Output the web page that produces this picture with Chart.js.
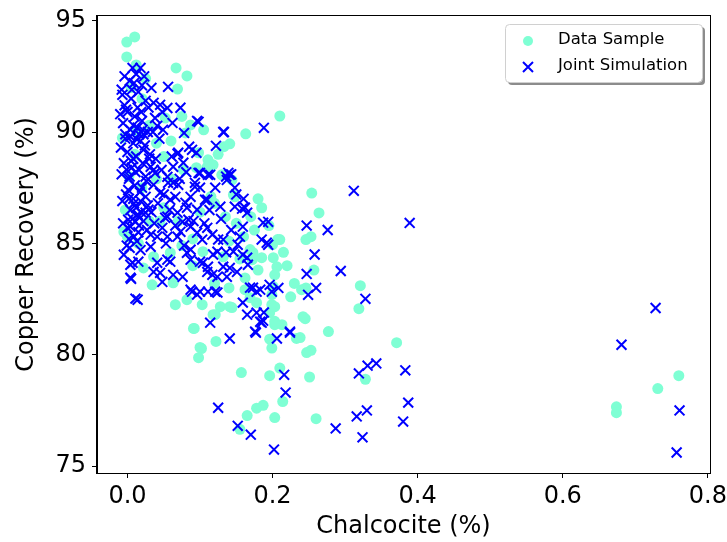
<!DOCTYPE html>
<html>
<head>
<meta charset="utf-8">
<script src="https://cdn.jsdelivr.net/npm/chart.js@4"></script>
<style>
  html, body { margin: 0; padding: 0; background: #fff; }
  #wrap { width: 727px; height: 542px; position: relative; }
</style>
</head>
<body>
<div id="wrap"><canvas id="chart"></canvas></div>
<script>
// Data Sample (circles)
const sampleX = [
  -0.001, 0.010, -0.001, 0.012, 0.067, 0.082, 0.069, 0.210, 0.163, 0.141, 0.133, 0.087, 0.080, -0.007, 0.052,
  0.111, 0.118, 0.098, 0.148, 0.130, 0.144, 0.146, 0.254, 0.264, 0.253, 0.246, 0.257, 0.246, 0.321, 0.319,
  0.245, 0.277, 0.371, 0.247, 0.253, 0.251, 0.328, 0.260, 0.760, 0.731, 0.674, 0.674, 0.092, 0.122, 0.102,
  0.098, 0.157, 0.196, 0.210, 0.199, 0.196, 0.203, 0.233, 0.214, 0.203, 0.187, 0.178, 0.165, 0.155, 0.207,
  0.200, 0.201, 0.206, 0.203, 0.201, 0.199, 0.199, 0.196, 0.203, 0.118, 0.066, 0.034, 0.022, -0.005, 0.128,
  0.141, 0.169, 0.178, 0.162, 0.172, 0.169, 0.132, 0.104, 0.059, 0.036, 0.077, 0.110, 0.210, 0.185, 0.173,
  0.162, 0.144, 0.203, 0.213, 0.121, 0.103, 0.240, 0.242, 0.082, 0.091, 0.100, 0.063, -0.003, 0.002, 0.010,
  0.020, 0.015, 0.030, 0.040, 0.050, 0.060, 0.070, 0.090, 0.100, 0.120, 0.135, 0.150, 0.160, 0.175, 0.185,
  0.090, 0.120, 0.140, 0.155, 0.180, 0.050, 0.040, 0.030, 0.020, 0.060, 0.075, 0.105, 0.115, 0.125, 0.025,
  0.005, 0.013, 0.000, 0.170, 0.140, 0.180, 0.195, 0.220, 0.225, 0.230, 0.238, 0.215, 0.045, 0.075, 0.095
];
const sampleY = [
  94.04, 94.27, 93.37, 93.01, 92.88, 92.52, 91.93, 90.72, 89.92, 89.47, 89.34, 90.32, 89.96, 89.74, 90.63,
  88.75, 88.53, 89.07, 87.09, 88.08, 87.85, 87.18, 87.26, 86.37, 85.30, 85.17, 83.80, 83.00, 83.10, 82.07,
  81.62, 81.04, 80.54, 80.10, 80.20, 79.00, 78.90, 77.13, 79.06, 78.48, 77.66, 77.40, 81.18, 80.60, 80.28,
  79.87, 79.20, 79.06, 79.40, 80.30, 80.70, 81.35, 80.73, 77.90, 77.18, 77.73, 77.60, 77.27, 76.65, 85.17,
  84.94, 84.36, 83.95, 83.59, 83.06, 82.70, 82.25, 81.89, 81.50, 81.80, 82.25, 83.14, 83.90, 85.52, 82.16,
  82.16, 82.56, 82.34, 83.45, 84.27, 84.72, 84.40, 84.63, 84.58, 84.40, 88.30, 88.44, 85.17, 84.36, 84.58,
  82.92, 82.12, 82.16, 81.35, 81.80, 82.25, 82.92, 81.71, 82.47, 81.18, 80.33, 83.23, 86.50, 88.00, 89.00,
  87.50, 85.00, 86.00, 89.50, 88.90, 87.90, 86.00, 85.20, 86.40, 86.80, 86.20, 85.90, 85.30, 85.60, 86.60,
  84.00, 83.20, 83.00, 84.30, 83.80, 86.60, 87.90, 90.30, 91.50, 89.60, 90.70, 90.10, 87.10, 89.00, 92.40,
  92.00, 90.00, 85.30, 86.20, 85.10, 87.00, 85.80, 84.00, 82.60, 83.20, 80.77, 84.60, 86.00, 84.90, 88.40
];

// Joint Simulation (crosses)
const simX = [
  -0.008, -0.007, 0.007, 0.018, 0.012, 0.003, 0.020, -0.004, 0.005, 0.015, 0.025, 0.000, 0.010, 0.020, -0.006,
  0.004, 0.014, 0.028, -0.003, 0.008, 0.018, 0.022, 0.000, 0.012, 0.030, -0.005, 0.006, 0.016, 0.025, 0.002,
  0.010, 0.020, -0.002, 0.008, 0.018, 0.028, 0.004, 0.014, 0.001, 0.011, 0.025, 0.000, 0.004, 0.015, 0.032,
  0.041, -0.005, 0.004, 0.007, 0.015, 0.005, 0.011, 0.014, 0.004, 0.032, 0.029, 0.015, 0.025, 0.032, 0.038,
  0.036, 0.045, 0.036, 0.038, 0.048, 0.055, 0.062, 0.049, 0.041, 0.033, 0.056, 0.073, 0.096, 0.132, 0.188,
  0.122, 0.078, 0.085, 0.095, 0.069, 0.077, 0.089, 0.070, 0.098, 0.093, 0.056, 0.066, 0.080, 0.084, 0.141,
  0.137, 0.100, 0.114, 0.070, 0.093, 0.121, 0.107, 0.128, 0.158, 0.165, 0.187, 0.194, 0.159, 0.185, 0.194,
  0.152, 0.146, 0.159, 0.165, 0.166, 0.141, 0.151, 0.132, 0.124, 0.117, 0.111, 0.087, 0.096, 0.111, 0.124,
  0.159, 0.173, 0.178, 0.196, 0.199, 0.165, 0.178, 0.187, 0.041, 0.045, 0.036, 0.063, 0.076, 0.055, 0.082,
  0.087, 0.104, 0.087, 0.069, 0.055, 0.048, 0.052, 0.076, 0.087, 0.096, 0.110, 0.117, 0.125, 0.132, 0.103,
  0.073, 0.059, 0.045, 0.036, 0.063, 0.055, 0.063, 0.087, 0.096, 0.082, 0.069, 0.055, 0.048, 0.059, 0.089,
  0.137, 0.169, 0.183, 0.183, 0.114, 0.176, 0.224, 0.100, 0.121, 0.110, 0.100, 0.124, 0.192, 0.162, 0.148,
  0.111, 0.139, 0.110, 0.098, 0.133, 0.141, 0.177, 0.185, 0.206, 0.224, 0.216, 0.218, 0.125, 0.152, 0.170,
  0.202, 0.312, 0.389, 0.276, 0.247, 0.258, 0.294, 0.247, 0.260, 0.249, 0.328, 0.319, 0.331, 0.343, 0.383,
  0.387, 0.380, 0.316, 0.330, 0.287, 0.324, 0.728, 0.681, 0.761, 0.757, 0.150, 0.188, 0.208, 0.022, 0.009,
  -0.010, -0.009, -0.008, -0.007, -0.006, -0.004, -0.002, -0.001, 0.001, 0.002, 0.003, 0.004, 0.005, 0.006, 0.007,
  0.008, 0.009, 0.011, 0.012, 0.013, 0.014, 0.016, 0.017, 0.018, 0.019, 0.021, 0.022, 0.023, 0.024, 0.026,
  0.027, 0.029, 0.031, 0.033, 0.035, 0.037, 0.039, 0.042, 0.044, 0.047, 0.050, 0.053, 0.058, 0.061, 0.066,
  0.072, 0.078, 0.081, 0.091, 0.100, 0.106, 0.113, 0.118, 0.129, 0.136, 0.143, 0.148, 0.155, 0.160, 0.143,
  0.136, -0.003, 0.003, 0.009, 0.016, 0.021, 0.002, 0.012, 0.019, -0.001, 0.008
];
const simY = [
  91.90, 91.67, 92.88, 92.88, 92.60, 92.30, 92.10, 91.20, 91.50, 91.80, 91.40, 90.90, 90.70, 90.50, 90.40,
  90.10, 90.20, 90.00, 89.70, 89.50, 89.60, 89.20, 89.10, 88.90, 88.80, 88.60, 88.40, 88.30, 88.00, 87.90,
  87.60, 87.50, 87.20, 87.00, 86.90, 86.70, 86.50, 86.30, 86.06, 85.97, 86.38, 85.70, 85.75, 85.50, 85.39,
  85.30, 84.49, 84.04, 84.13, 84.18, 83.41, 82.52, 82.47, 83.46, 84.85, 86.51, 86.20, 87.09, 88.44, 88.16,
  88.30, 91.22, 91.31, 90.63, 90.90, 91.08, 90.41, 90.10, 90.28, 91.98, 92.03, 91.09, 90.50, 90.00, 90.19,
  89.38, 89.96, 89.34, 89.07, 89.02, 88.62, 89.20, 89.07, 88.16, 87.54, 87.72, 87.09, 86.82, 86.06, 88.08,
  87.85, 88.16, 88.08, 87.63, 87.72, 87.50, 86.96, 86.65, 86.56, 86.38, 85.93, 85.97, 85.75, 85.17, 84.94,
  84.94, 84.63, 84.49, 84.36, 84.04, 83.90, 83.72, 83.95, 83.50, 83.59, 83.95, 82.92, 82.70, 82.83, 82.79,
  82.34, 83.01, 82.83, 83.14, 82.83, 81.80, 81.89, 81.53, 84.13, 83.68, 83.72, 83.59, 83.50, 84.27, 84.58,
  84.27, 84.13, 84.72, 85.30, 85.30, 85.70, 86.15, 85.97, 85.75, 85.48, 85.70, 85.39, 85.17, 85.17, 85.17,
  85.52, 86.96, 87.27, 87.63, 87.72, 87.99, 88.44, 87.09, 86.51, 86.60, 86.38, 86.20, 83.27, 84.18, 82.83,
  83.50, 83.01, 82.92, 81.48, 81.44, 81.04, 81.04, 82.83, 82.83, 83.72, 84.18, 84.63, 85.03, 86.60, 86.65,
  88.08, 88.17, 86.96, 90.46, 90.00, 80.73, 80.99, 81.44, 80.73, 80.99, 79.10, 78.30, 77.62, 76.81, 76.41,
  75.74, 87.36, 85.92, 85.60, 85.80, 84.50, 83.76, 83.63, 83.00, 82.69, 82.51, 79.16, 79.51, 79.61, 79.30,
  77.85, 77.00, 77.23, 77.50, 76.69, 76.29, 82.10, 80.45, 77.50, 75.61, 87.20, 81.90, 83.00, 89.90, 85.30,
  90.80, 89.30, 88.10, 86.90, 85.90, 92.50, 91.00, 88.30, 87.40, 85.20, 84.80, 89.80, 88.70, 91.90, 86.10,
  90.30, 92.20, 88.20, 86.60, 85.10, 91.10, 89.90, 87.30, 84.70, 90.90, 88.60, 86.00, 92.50, 89.40, 87.80,
  85.60, 91.10, 89.00, 86.40, 90.00, 85.90, 88.80, 86.80, 89.70, 88.30, 87.20, 85.00, 86.50, 88.90, 85.80,
  87.90, 84.90, 88.20, 86.00, 87.50, 85.90, 86.50, 84.50, 86.10, 84.60, 85.60, 87.50, 85.30, 87.00, 88.10,
  88.00, 89.90, 88.00, 86.80, 85.80, 90.10, 87.00, 89.70, 86.40, 84.90, 88.80
];

const xTicks = [0.0, 0.2, 0.4, 0.6, 0.8];
const yTicks = [75, 80, 85, 90, 95];
const seriesNames = ["Data Sample", "Joint Simulation"];

const SAMPLE_COLOR = "#7fffd4";
const SIM_COLOR = "#0000ff";
const FONT = "'DejaVu Sans', sans-serif";

const toPoints = (xs, ys) => xs.map((x, i) => ({ x, y: ys[i] }));

// frame + legend in the matplotlib style
const framePlugin = {
  id: "frame",
  afterDraw(chart) {
    const { ctx, chartArea: a } = chart;
    ctx.save();
    ctx.strokeStyle = "#000";
    ctx.lineWidth = 1;
    ctx.strokeRect(Math.round(a.left) - 0.5, Math.round(a.top) - 0.5,
      Math.round(a.right - a.left) + 1, Math.round(a.bottom - a.top) + 1);

    // legend box
    const bx = 505, by = 24, bw = 197, bh = 58, r = 4;
    const box = (x, y) => {
      ctx.beginPath();
      ctx.roundRect(x, y, bw, bh, r);
    };
    ctx.fillStyle = "rgba(0,0,0,0.45)";
    box(bx + 3, by + 3); ctx.fill();
    ctx.fillStyle = "#fff";
    box(bx, by); ctx.fill();
    ctx.strokeStyle = "#d0d0d0";
    ctx.lineWidth = 1;
    box(bx + 0.5, by + 0.5); ctx.stroke();

    // markers
    ctx.fillStyle = SAMPLE_COLOR;
    ctx.beginPath();
    ctx.arc(528, 41, 5, 0, Math.PI * 2);
    ctx.fill();
    ctx.strokeStyle = SIM_COLOR;
    ctx.lineWidth = 2;
    ctx.beginPath();
    ctx.moveTo(523, 62); ctx.lineTo(533, 72);
    ctx.moveTo(533, 62); ctx.lineTo(523, 72);
    ctx.stroke();

    ctx.fillStyle = "#000";
    ctx.font = "16.5px " + FONT;
    ctx.textBaseline = "middle";
    ctx.textAlign = "left";
    ctx.fillText(seriesNames[0], 558, 40);
    ctx.fillText(seriesNames[1], 558, 66);
    ctx.restore();
  }
};

new Chart(document.getElementById("chart"), {
  type: "scatter",
  data: {
    datasets: [
      {
        label: seriesNames[0],
        data: toPoints(sampleX, sampleY),
        pointStyle: "circle",
        pointRadius: 5.5,
        pointHoverRadius: 5.5,
        backgroundColor: SAMPLE_COLOR,
        borderWidth: 0,
        order: 2
      },
      {
        label: seriesNames[1],
        data: toPoints(simX, simY),
        pointStyle: "crossRot",
        pointRadius: 7,
        pointHoverRadius: 7,
        borderColor: SIM_COLOR,
        borderWidth: 2,
        order: 1
      }
    ]
  },
  options: {
    responsive: true,
    maintainAspectRatio: false,
    animation: false,
    events: [],
    layout: { padding: { top: 16, right: 17, left: 0, bottom: 0 } },
    plugins: {
      legend: { display: false },
      tooltip: { enabled: false }
    },
    scales: {
      x: {
        type: "linear",
        min: -0.042,
        max: 0.803,
        afterBuildTicks: s => { s.ticks = xTicks.map(v => ({ value: v })); },
        afterFit: s => { s.height = 69; s.paddingLeft = 0; s.paddingRight = 0; },
        ticks: {
          color: "#000",
          padding: 4,
          font: { family: FONT, size: 24 },
          callback: v => v.toFixed(1)
        },
        grid: { drawOnChartArea: false, drawTicks: true, tickLength: 5, color: "#000" },
        border: { display: true, color: "#000" },
        title: {
          display: true,
          text: "Chalcocite (%)",
          color: "#000",
          font: { family: FONT, size: 24 },
          padding: { top: 0, bottom: 1 }
        }
      },
      y: {
        type: "linear",
        min: 74.69,
        max: 95.21,
        afterBuildTicks: s => { s.ticks = yTicks.map(v => ({ value: v })); },
        afterFit: s => { s.width = 97; s.paddingTop = 0; s.paddingBottom = 0; },
        ticks: {
          color: "#000",
          padding: 6,
          font: { family: FONT, size: 24 },
          callback: v => String(v)
        },
        grid: { drawOnChartArea: false, drawTicks: true, tickLength: 5, color: "#000" },
        border: { display: true, color: "#000" },
        title: {
          display: true,
          text: "Copper Recovery (%)",
          color: "#000",
          font: { family: FONT, size: 24 },
          padding: { top: 12, bottom: 0 }
        }
      }
    }
  },
  plugins: [framePlugin]
});
</script>
</body>
</html>
